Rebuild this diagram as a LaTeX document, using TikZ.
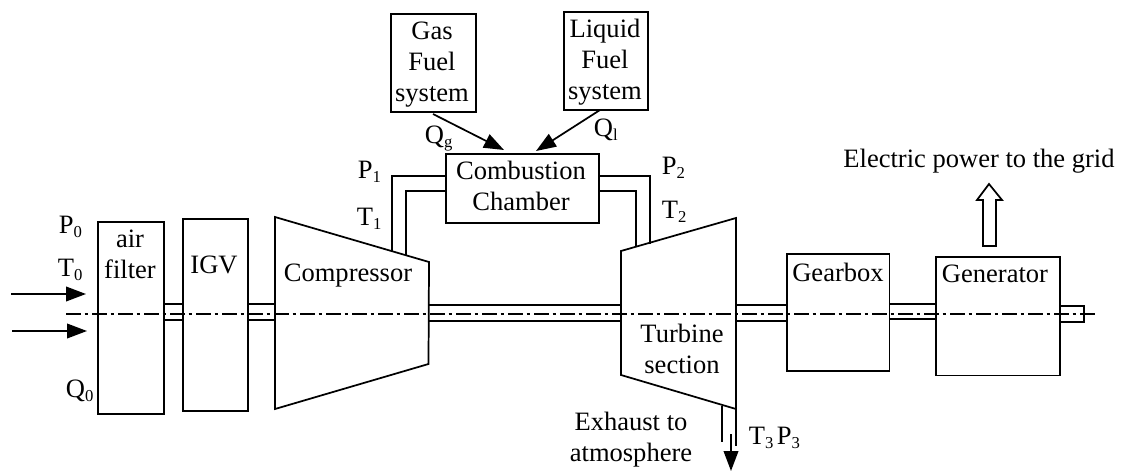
\documentclass[tikz,border=0pt]{standalone}
\usepackage{fontspec}
\setmainfont{Liberation Serif}
\usetikzlibrary{arrows.meta}
\newcommand{\sbs}[1]{\raisebox{-3.4pt}{\fontsize{12.5}{14}\selectfont #1}}
\tikzset{
  every path/.style={line width=1.3pt, line join=miter},
  box/.style={draw, line width=1.3pt, inner sep=0pt, anchor=north west},
  lab/.style={inner sep=0pt, align=center, font=\fontsize{19.9}{23.2}\selectfont},
  sym/.style={inner sep=0pt, anchor=base west, font=\fontsize{19.9}{23.2}\selectfont},
  flow/.style={-{Triangle[length=15pt,width=11pt]}},
  centre/.style={line width=1.2pt, dash pattern=on 11pt off 3pt on 2.5pt off 3pt},
}
\begin{document}
\begin{tikzpicture}[x=0.75pt,y=-0.75pt]
\useasboundingbox (0,0) rectangle (1129,471);
% centre line ends
\coordinate (cl1) at (66,314);
\coordinate (cl2) at (1097,314);
% boxes
\node[box,minimum width=49.5pt,minimum height=144pt] (filter) at (97,221) {};
\node[box,minimum width=48.75pt,minimum height=144pt] (igv) at (182,218) {};
\node[box,minimum width=77pt,minimum height=88pt] (gearbox) at (786,253) {};
\node[box,minimum width=93pt,minimum height=89pt] (generator) at (935,256) {};
\node[box,minimum width=63.75pt,minimum height=73.5pt] (gas) at (390,13) {};
\node[box,minimum width=63pt,minimum height=73.5pt] (liquid) at (563,11) {};
\node[box,minimum width=114.75pt,minimum height=51.75pt] (chamber) at (445,153) {};
% compressor and turbine
\coordinate (ca) at (275,217); \coordinate (cb) at (429,262);
\coordinate (cc) at (428.5,364); \coordinate (cd) at (275,409);
\draw (ca) -- (cb) -- (cc) -- (cd) -- cycle;
\coordinate (ta) at (621,251); \coordinate (tb) at (736,218);
\coordinate (tc) at (736,409); \coordinate (td) at (621,375);
\draw (ta) -- (tb) -- (tc) -- (td) -- cycle;
% shafts
\draw (163,304) -- (182,304) (163,320) -- (182,320);
\draw (247,304) -- (275,304) (247,320) -- (275,320);
\draw (429,305) -- (622,305) (429,321) -- (622,321);
\draw (736,305) -- (787,305) (736,321) -- (787,321);
\draw (889,304) -- (937,304) (889,319) -- (937,319);
\draw (1059,306) -- (1084,306) -- (1084,322) -- (1059,322);
\draw[centre] (cl1) -- (cl2);
% ducts
\coordinate (d1) at (392,251); \coordinate (d2) at (406,255);
\coordinate (d3) at (650,244); \coordinate (d4) at (636,247);
\draw (d1) |- (chamber.west |- 0,176);
\draw (d2) |- (chamber.west |- 0,191);
\draw (d3) |- (chamber.east |- 0,176);
\draw (d4) |- (chamber.east |- 0,191);
% flows
\coordinate (a1) at (11,294); \coordinate (a2) at (86,294);
\coordinate (b1) at (12,331); \coordinate (b2) at (87,331);
\draw[flow] (a1) -- (a2);
\draw[flow] (b1) -- (b2);
\coordinate (g1) at (433,114); \coordinate (g2) at (504,150);
\coordinate (l1) at (600,110); \coordinate (l2) at (536,151);
\draw[flow] (g1) -- (g2);
\draw[flow] (l1) -- (l2);
% exhaust
\draw (722,406) -- (722,442);
\draw (736,409) -- (736,446);
\coordinate (e1) at (731,434); \coordinate (e2) at (731,471);
\draw[flow] (e1) -- (e2);
% power arrow
\draw (983,246) -- (983,200) -- (977,200) -- (989,184) -- (1002,200) -- (996,200) -- (996,246) -- cycle;
% labels
\node[lab] (tfilter) at (130,254) {air\\filter};
\node[lab] (tigv) at (214,265) {IGV};
\node[lab] (tcomp) at (348,276) {Compressor};
\node[lab] (tchamber) at (521,186) {Combustion\\Chamber};
\node[lab] (tgas) at (432,65) {Gas\\Fuel\\system};
\node[lab] (tliquid) at (605,62) {Liquid\\Fuel\\system};
\node[lab] (tturb) at (682,349) {Turbine\\section};
\node[lab] (tgear) at (838,272) {Gearbox};
\node[lab] (tgen) at (995,274) {Generator};
\node[lab] (tpower) at (979,161) {Electric power to the grid};
\node[lab] (texh) at (631,440) {Exhaust to\\atmosphere};
\node[sym] (p0) at (58,233) {P\sbs{0}};
\node[sym] (t0) at (57,276) {T\sbs{0}};
\node[sym] (q0) at (65,397) {Q\sbs{0}};
\node[sym] (p1) at (357,178) {P\sbs{1}};
\node[sym] (t1) at (356,225) {T\sbs{1}};
\node[sym] (p2) at (661,174) {P\sbs{2}};
\node[sym] (t2) at (661,218) {T\sbs{2}};
\node[sym] (qg) at (424,143) {Q\sbs{g}};
\node[sym] (ql) at (593,136) {Q\sbs{l}};
\node[sym] (t3) at (748,444) {T\sbs{3}};
\node[sym] (p3) at (776,444) {P\sbs{3}};
\end{tikzpicture}
\end{document}
